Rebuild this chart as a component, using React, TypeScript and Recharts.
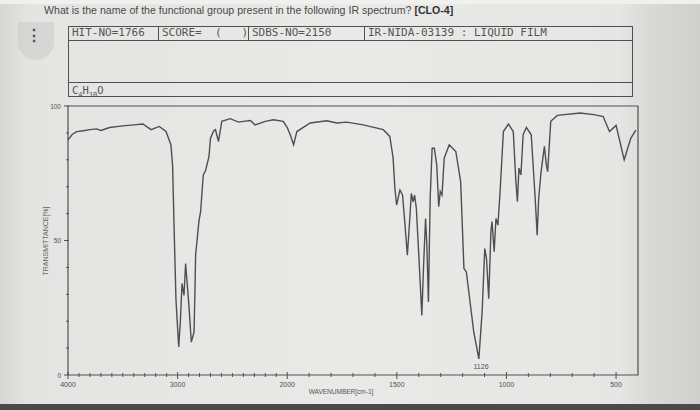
import React from "react";
import { LineChart, Line, XAxis, YAxis, ReferenceArea } from "recharts";

// IR spectrum (wavenumber in cm-1, transmittance in %)
const wavenumbers = [
  4000, 3960, 3920, 3860, 3800, 3740, 3700, 3620, 3500, 3400, 3318, 3242, 3167, 3106, 3061, 3046, 3031, 3015,
  2990, 2975, 2960, 2942, 2927, 2897, 2875, 2850, 2840, 2836, 2806, 2790, 2766, 2745, 2714, 2700, 2670, 2655,
  2627, 2597, 2520, 2445, 2400, 2336, 2294, 2200, 2128, 2036, 2000, 1985, 1971, 1956, 1895, 1820, 1774, 1729,
  1653, 1562, 1532, 1517, 1509, 1501, 1486, 1474, 1464, 1452, 1441, 1434, 1426, 1419, 1411, 1399, 1386, 1378,
  1369, 1363, 1356, 1348, 1339, 1329, 1318, 1309, 1302, 1294, 1284, 1261, 1231, 1209, 1194, 1183, 1149, 1126,
  1111, 1099, 1091, 1081, 1071, 1066, 1056, 1048, 1039, 1029, 1014, 991, 969, 957, 950, 943, 934, 924, 909, 887,
  869, 860, 853, 842, 827, 818, 812, 798, 768, 664, 600, 559, 530, 500, 463, 433, 410,
];
const transmittance = [
  87.4, 89.5, 90.5, 90.8, 91.2, 91.5, 90.9, 92, 92.6, 93, 93.3, 91.2, 92.4, 90.5, 85.6, 78, 53, 28,
  10.4, 20, 34, 29.6, 41.4, 25.9, 12.2, 16, 35, 44.5, 57, 60.8, 74.4, 76, 81.2, 88, 90.8, 91.2,
  86.8, 94.3, 95.3, 94, 94.3, 94.6, 93, 94.3, 94.9, 94.3, 92, 89, 85.6, 90.5, 93.7, 94.5, 93.7, 94,
  93, 91.2, 88.7, 80.6, 69.4, 63.2, 68.8, 66.9, 57, 44.5, 58.2, 67.5, 64.4, 66.9, 61.9, 43.3, 22.1, 40.8,
  58.2, 48.2, 27.1, 65.7, 84.3, 84.3, 78, 62.6, 68.2, 66.9, 80.6, 85.6, 83.1, 71.9, 39.6, 38.3, 15.9, 6,
  23.4, 47, 43.3, 28.4, 53.2, 57, 45.8, 58.2, 55.7, 68.2, 90.5, 93.3, 90.5, 71.9, 64.4, 76.9, 74.4, 89.3, 92, 89.3,
  65.7, 52, 65.7, 75.6, 85, 78, 75.6, 94.3, 96.5, 97.4, 96.8, 96.1, 90.5, 92.8, 80, 88, 91,
];
const labeledWavenumbers = [4000, 3000, 2000, 1500, 1000, 500];
const tickWavenumbers = [
  4000, 3900, 3800, 3700, 3600, 3500, 3400, 3300, 3200, 3100, 3000, 2900, 2800, 2700, 2600, 2500, 2400, 2300,
  2200, 2100, 2000, 1900, 1800, 1700, 1600, 1500, 1400, 1300, 1200, 1100, 1000, 900, 800, 700, 600, 500,
];
const yTicks = [0, 10, 20, 30, 40, 50, 60, 70, 80, 90, 100];
const yLabeled = [0, 50, 100];

// SDBS scale: 4000-2000 compressed, 2000-400 doubled
const toU = (wn: number) => (wn >= 2000 ? 4000 - wn : 2000 + 2 * (2000 - wn));
const fromU = (u: number) => (u <= 2000 ? 4000 - u : 2000 - (u - 2000) / 2);

const data = wavenumbers.map((wn, i) => ({ u: toU(wn), t: transmittance[i] }));

const ink = "#505050";
const small = "'Liberation Sans', Arial, sans-serif";
const mono = "'DejaVu Sans Mono', monospace";

function XTick(props: any) {
  const { x, y, payload } = props;
  const wn = Math.round(fromU(payload.value));
  const big = labeledWavenumbers.includes(wn);
  return (
    <g>
      <line x1={x} x2={x} y1={y - (big ? 3 : 2)} y2={y + (big ? 4 : 2)} stroke={ink} strokeWidth={1} />
      {big && (
        <text x={x} y={y + 12} textAnchor="middle" fontSize={7} fill={ink} fontFamily={small}>
          {wn}
        </text>
      )}
    </g>
  );
}

function YTick(props: any) {
  const { x, y, payload } = props;
  const big = yLabeled.includes(payload.value);
  return (
    <g>
      <line x1={x - (big ? 4 : 2)} x2={x + 1} y1={y} y2={y} stroke={ink} strokeWidth={1} />
      {big && (
        <text x={x - 7} y={y + 2.5} textAnchor="end" fontSize={6.5} fill={ink} fontFamily={small}>
          {payload.value}
        </text>
      )}
    </g>
  );
}

const cell = (left: number, width: number): React.CSSProperties => ({
  position: "absolute",
  left,
  width,
  top: 26,
  height: 14,
  lineHeight: "14px",
  fontFamily: mono,
  fontSize: 11,
  color: "#555",
  paddingLeft: 4,
  boxSizing: "border-box",
  whiteSpace: "nowrap",
});

export default function App() {
  return (
    <div
      style={{
        position: "absolute",
        left: 0,
        top: 0,
        width: 700,
        height: 410,
        overflow: "hidden",
        background: "linear-gradient(to right, #d6d6d4 0%, #e4e4e2 4%, #e9e9e7 50%, #e6e6e4 88%, #d9d9d7 93%, #cfcfcd 100%)",
      }}
    >
      <div style={{ position: "absolute", left: 0, top: 0, width: 700, height: 4, background: "#f0f0ee" }} />
      <div style={{ position: "absolute", left: 0, top: 404, width: 700, height: 6, background: "#4a4a4a" }} />

      <div
        style={{
          position: "absolute",
          left: 44,
          top: 4,
          fontFamily: small,
          fontSize: 10.6,
          color: "#4a4a4a",
          whiteSpace: "nowrap",
        }}
      >
        What is the name of the functional group present in the following IR spectrum? <b style={{ color: "#333" }}>[CLO-4]</b>
      </div>

      <div
        style={{
          position: "absolute",
          left: 18,
          top: 22,
          width: 36,
          height: 38,
          borderRadius: "0 0 22px 22px",
          background: "rgba(200,200,198,0.5)",
        }}
      />
      <div style={{ position: "absolute", left: 26, top: 26, fontFamily: small, fontSize: 16, fontWeight: 700, color: "#555" }}>⋮</div>

      {/* header frame */}
      <div style={{ position: "absolute", left: 68, top: 26, width: 565, height: 71, border: `1px solid ${ink}`, boxSizing: "border-box" }} />
      <div style={{ position: "absolute", left: 68, top: 40, width: 565, height: 1, background: ink }} />
      <div style={{ position: "absolute", left: 68, top: 82, width: 565, height: 1, background: ink }} />
      <div style={{ position: "absolute", left: 158, top: 26, width: 1, height: 14, background: ink }} />
      <div style={{ position: "absolute", left: 248, top: 26, width: 1, height: 14, background: ink }} />
      <div style={{ position: "absolute", left: 364, top: 26, width: 1, height: 14, background: ink }} />
      <div style={cell(68, 90)}>HIT-NO=1766</div>
      <div style={cell(158, 90)}>SCORE=&nbsp; (&nbsp; &nbsp;)</div>
      <div style={cell(248, 116)}>SDBS-NO=2150</div>
      <div style={cell(364, 260)}>IR-NIDA-03139 : LIQUID FILM</div>
      <div style={{ position: "absolute", left: 72, top: 83, fontFamily: mono, fontSize: 10.5, color: "#555", lineHeight: "14px" }}>
        C<sub style={{ fontSize: 7 }}>4</sub>H<sub style={{ fontSize: 7 }}>10</sub>O
      </div>

      <div
        style={{
          position: "absolute",
          left: 45,
          top: 241,
          transform: "translate(-50%, -50%) rotate(-90deg)",
          fontFamily: small,
          fontSize: 7,
          color: "#666",
          whiteSpace: "nowrap",
        }}
      >
        TRANSMITTANCE[%]
      </div>
      <div
        style={{ position: "absolute", left: 341, top: 388, transform: "translateX(-50%)", fontFamily: small, fontSize: 6.5, color: "#555", whiteSpace: "nowrap" }}
      >
        WAVENUMBER[cm-1]
      </div>

      <LineChart width={700} height={410} data={data} margin={{ top: 106, right: 62, left: 0, bottom: 5 }} style={{ position: "absolute", left: 0, top: 0 }}>
        <XAxis
          dataKey="u"
          type="number"
          domain={[0, 5200]}
          ticks={tickWavenumbers.map(toU)}
          tick={<XTick />}
          tickSize={0}
          tickMargin={0}
          axisLine={false}
          tickLine={false}
          height={30}
          interval={0}
        />
        <YAxis
          type="number"
          domain={[0, 100]}
          ticks={yTicks}
          tick={<YTick />}
          tickSize={0}
          tickMargin={0}
          axisLine={false}
          tickLine={false}
          width={68}
          interval={0}
        />
        <ReferenceArea x1={0} x2={5200} y1={0} y2={100} stroke={ink} strokeWidth={1.2} fill="none" ifOverflow="visible" />
        <Line type="linear" dataKey="t" stroke="#4f4f4f" strokeWidth={1.4} dot={false} isAnimationActive={false} />
        <text x={481} y={369} textAnchor="middle" fontSize={7} fill={ink} fontFamily={small}>
          1126
        </text>
      </LineChart>
    </div>
  );
}
